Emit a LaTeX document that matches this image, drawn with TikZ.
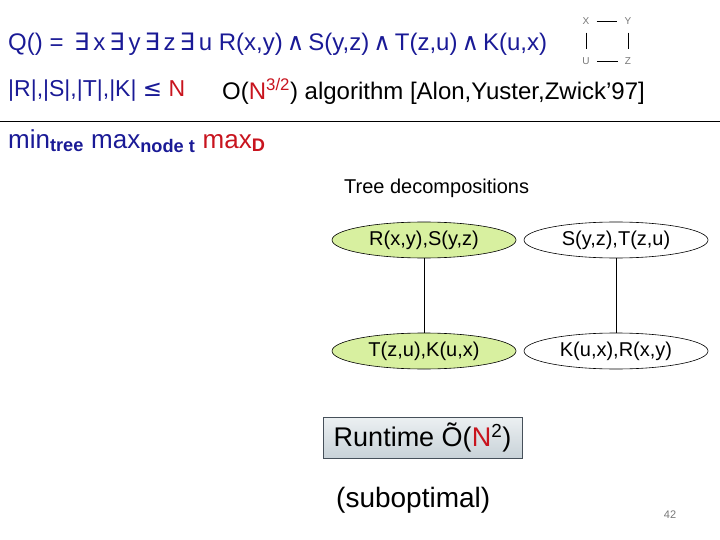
\documentclass[tikz,border=0pt]{standalone}
\usepackage{fontspec}
\setmainfont{Liberation Sans}
\newfontfamily\symf{DejaVu Sans}
\usetikzlibrary{shapes.geometric}
\definecolor{qblue}{RGB}{26,26,150}
\definecolor{nred}{RGB}{200,20,30}
\definecolor{egreen}{RGB}{216,240,160}
\definecolor{boxtop}{RGB}{236,240,242}
\definecolor{boxbot}{RGB}{200,210,216}
\definecolor{pgray}{RGB}{120,120,120}
\tikzset{
  txt/.style={inner sep=0pt, anchor=west, font=\fontsize{23}{27}\selectfont},
  tnode/.style={ellipse, draw=black, line width=0.6pt, minimum width=184pt, minimum height=36pt, inner sep=0pt, font=\fontsize{20}{24}\selectfont},
  gnode/.style={tnode, fill=egreen},
  wnode/.style={tnode, fill=white},
  vlab/.style={inner sep=1pt, font=\fontsize{10}{11}\selectfont, text=pgray},
  tedge/.style={draw=black, line width=0.6pt}
}
\begin{document}
\begin{tikzpicture}[x=1pt,y=-1pt]
\useasboundingbox (0,0) rectangle (720,540);
% header formula
\node[txt, text=qblue, font=\fontsize{24}{28}\selectfont] (q) at (8,44) {Q() = \,{\symf ∃}\,x\,{\symf ∃}\,y\,{\symf ∃}\,z\,{\symf ∃}\,u R(x,y)\,{\symf ∧}\,S(y,z)\,{\symf ∧}\,T(z,u)\,{\symf ∧}\,K(u,x)};
% small graph
\node[vlab] (X) at (586,21) {X};
\node[vlab] (Y) at (628,21) {Y};
\node[vlab] (U) at (586,61) {U};
\node[vlab] (Z) at (628,61) {Z};
\draw[line width=0.6pt, shorten <=6pt, shorten >=6pt] (X) -- (Y);
\draw[line width=0.6pt, shorten <=6pt, shorten >=6pt] (U) -- (Z);
\draw[line width=0.6pt, shorten <=7pt, shorten >=7pt] (X) -- (U);
\draw[line width=0.6pt, shorten <=7pt, shorten >=7pt] (Y) -- (Z);
% second line
\node[txt, text=qblue] (card) at (8,91) {|R|,|S|,|T|,|K| {\symf ≤} \textcolor{nred}{N}};
\node[txt, text=black, font=\fontsize{24}{28}\selectfont] (alg) at (222,91) {O(\textcolor{nred}{N}\textsuperscript{\textcolor{nred}{3/2}}) algorithm [Alon,Yuster,Zwick’97]};
% rule
\coordinate (rl) at (0,121);
\coordinate (rr) at (720,121);
\draw[line width=0.8pt] (rl) -- (rr);
% min max max
\node[txt, text=qblue, font=\fontsize{26}{30}\selectfont] (mm) at (8,141) {min\textsubscript{\bfseries tree} max\textsubscript{\bfseries node t} \textcolor{nred}{max\textsubscript{\bfseries D}}};
% tree decompositions
\node[txt, font=\fontsize{20}{24}\selectfont] (td) at (344,188) {Tree decompositions};
\node[gnode] (a1) at (424,240) {R(x,y),S(y,z)};
\node[gnode] (a2) at (424,351) {T(z,u),K(u,x)};
\node[wnode] (b1) at (616,240) {S(y,z),T(z,u)};
\node[wnode] (b2) at (616,351) {K(u,x),R(x,y)};
\draw[tedge] (a1) -- (a2);
\draw[tedge] (b1) -- (b2);
% runtime box
\node[draw={rgb,255:red,70;green,80;blue,90}, line width=0.8pt, top color=boxtop, bottom color=boxbot, minimum width=199pt, minimum height=41pt, inner sep=0pt, font=\fontsize{27}{31}\selectfont] (rt) at (422.5,437.5) {Runtime Õ(\textcolor{nred}{N}\textsuperscript{2})};
\node[txt, font=\fontsize{28}{32}\selectfont] (sub) at (336,500) {(suboptimal)};
\node[inner sep=0pt, font=\fontsize{11}{13}\selectfont, text=pgray] (pg) at (670,515) {42};
\end{tikzpicture}
\end{document}
